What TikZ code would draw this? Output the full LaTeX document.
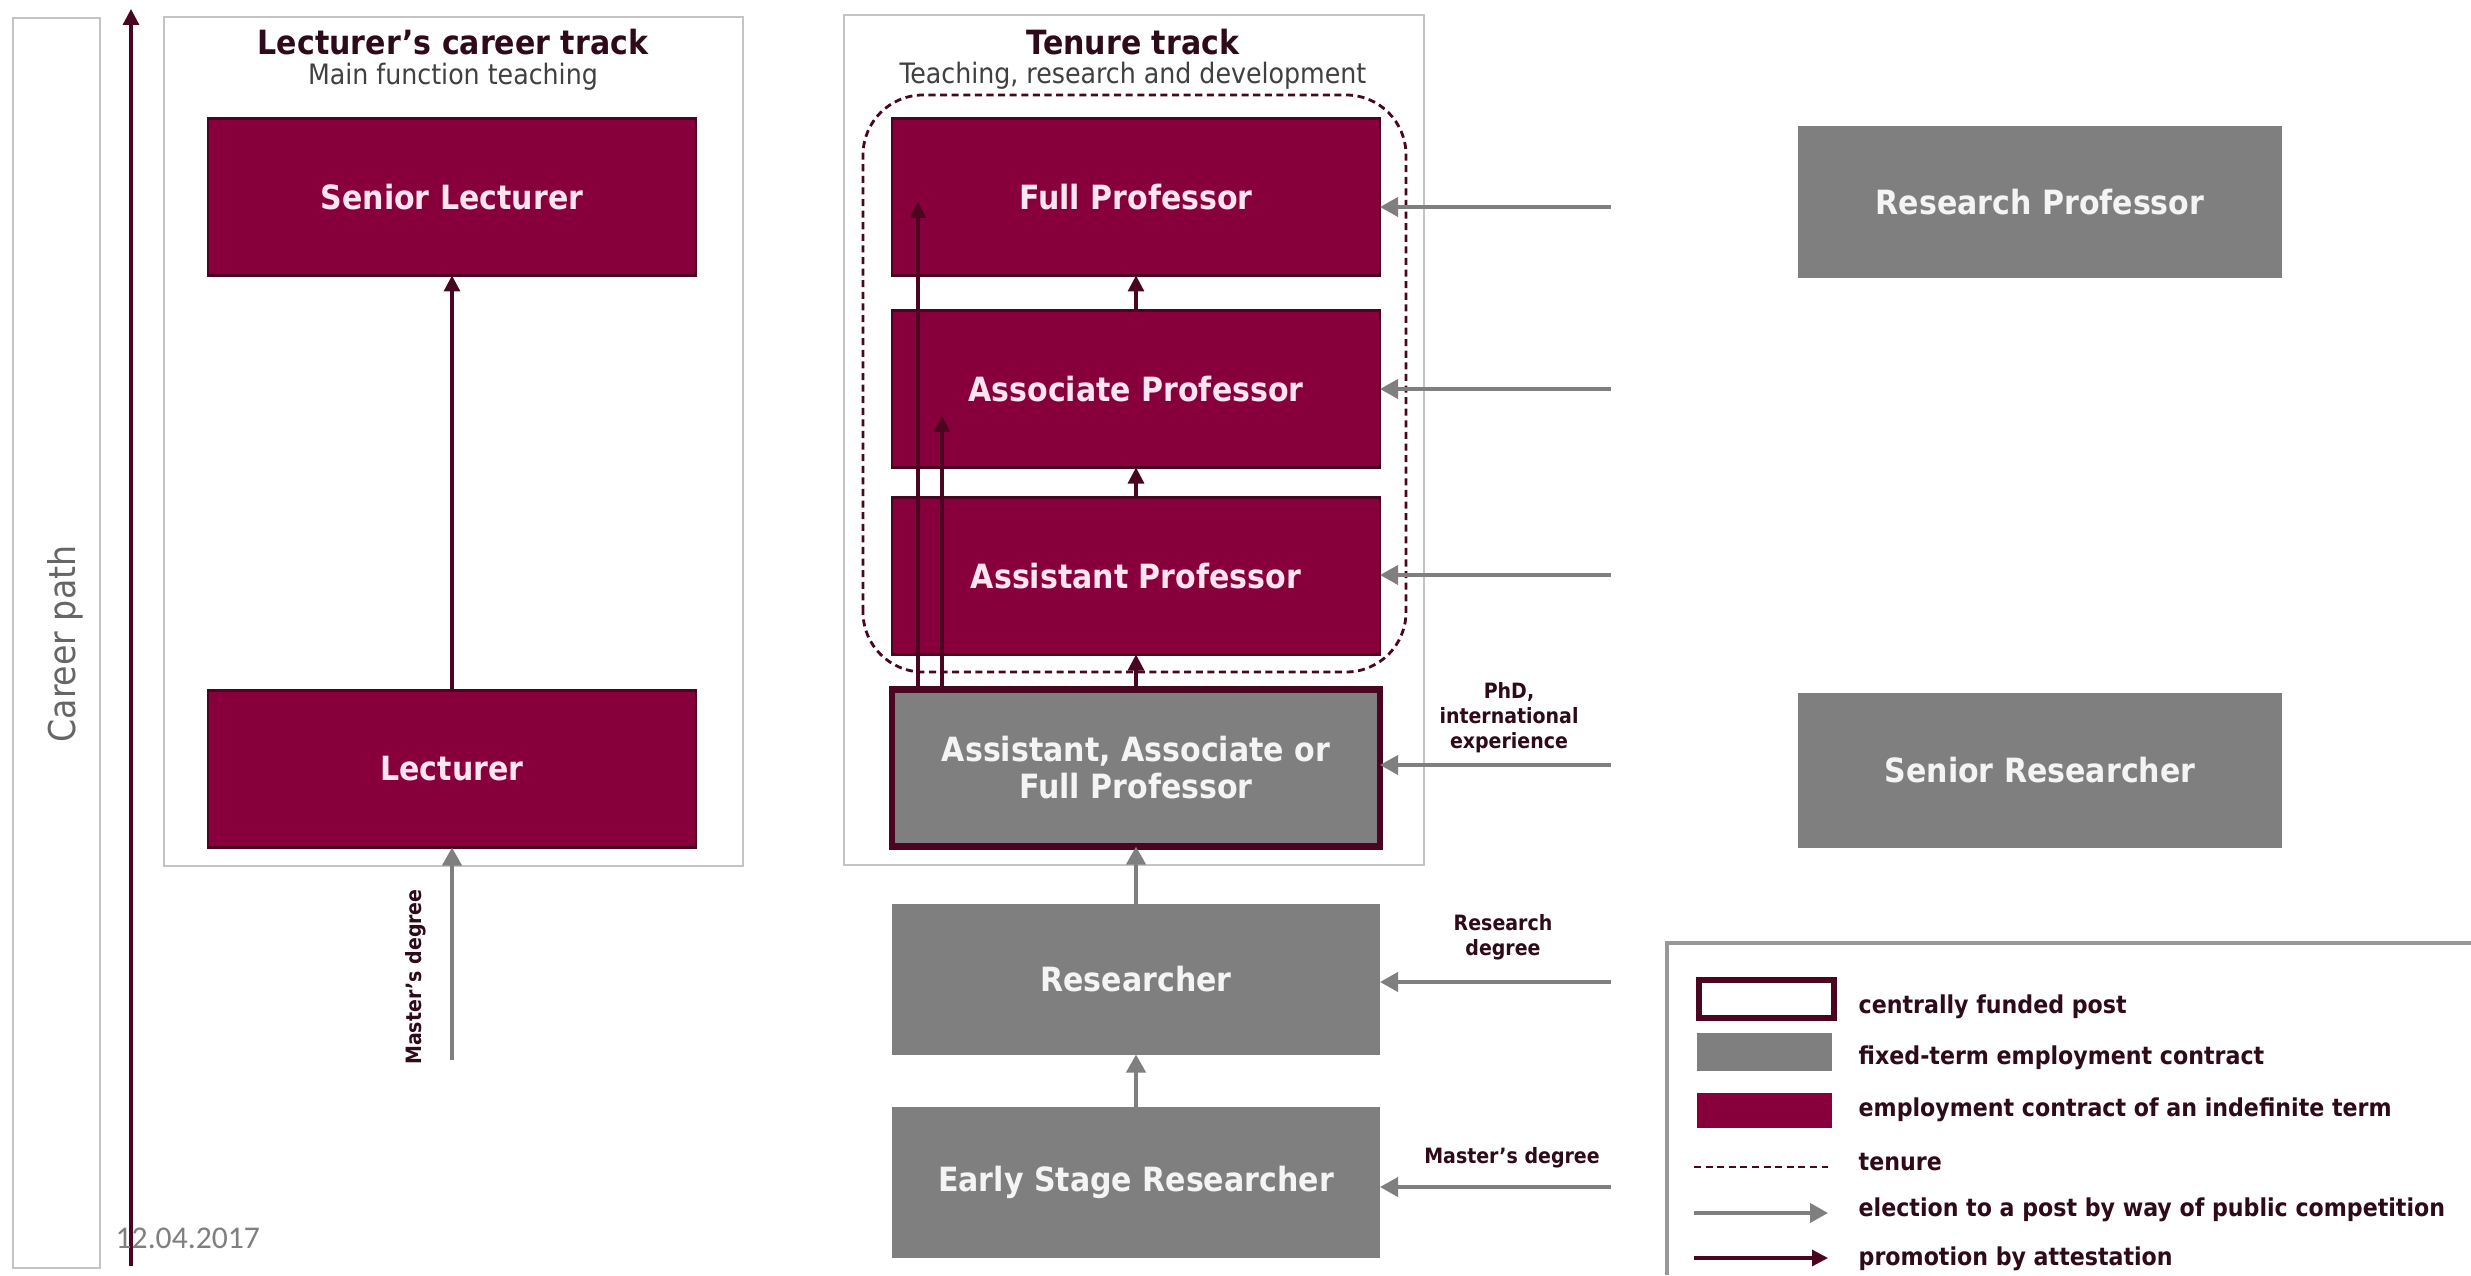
\documentclass[tikz,border=0pt]{standalone}
\usepackage{fontspec}
\setmainfont{DejaVu Sans Condensed}
\newfontfamily\datefont{Carlito}
\usepackage{xcolor}
\usepackage{tikz}
\usetikzlibrary{arrows.meta}
\definecolor{CTMaroon}{HTML}{88003B}
\definecolor{CTEdge}{HTML}{4A0620}
\definecolor{CTGray}{HTML}{7F7F7F}
\definecolor{CTFrame}{HTML}{C4C4C4}
\definecolor{CTInk}{HTML}{2E0A1A}
\definecolor{CTPale}{HTML}{FCE4F0}
\definecolor{CTLight}{HTML}{F4F4F4}
\tikzset{
  post/.style={minimum width=4.88cm,minimum height=1.57cm,inner sep=0pt,outer sep=0pt,
    font=\fontsize{9.5}{10.5}\selectfont\bfseries,align=center},
  indef/.style={post,fill=CTMaroon,draw=CTEdge,line width=.6pt,text=CTPale},
  fixed/.style={post,fill=CTGray,text=CTLight},
  funded/.style={post,fill=CTGray,draw=CTEdge,line width=1.8pt,text=CTLight},
  frame/.style={draw=CTFrame,line width=.7pt},
  promo/.style={draw=CTEdge,line width=.9pt,-{Triangle[length=1.6mm,width=1.6mm]}},
  elect/.style={draw=CTGray,line width=1.1pt,-{Triangle[length=1.8mm,width=1.9mm]}},
  cond/.style={font=\fontsize{6}{7.1}\selectfont\bfseries,text=CTInk,align=center},
  keytext/.style={anchor=west,inner sep=0pt,font=\fontsize{7}{8}\selectfont\bfseries,text=CTInk},
  title/.style={font=\fontsize{9.5}{11}\selectfont\bfseries,text=CTInk},
  subtitle/.style={font=\fontsize{8}{10}\selectfont,text=black!75}
}

\begin{document}
\begin{tikzpicture}[x=1cm,y=1cm]
\path[use as bounding box] (0,0) rectangle (24.71,12.75);
\fill[white] (0,0) rectangle (24.71,12.75);
% career path axis
\draw[frame] (0.13,0.07) rectangle (1.00,12.57);
\node[rotate=90,font=\fontsize{10.5}{12}\selectfont,text=black!60] (pathlabel) at (0.65,6.31) {Career path};
\coordinate (pathfoot) at (1.31,0.09);
\coordinate (pathhead) at (1.31,12.66);
\draw[promo] (pathfoot) -- (pathhead);
% lecturer track
\draw[frame] (1.64,4.09) rectangle (7.43,12.58);
\node[title] (lectitle) at (4.53,12.33) {Lecturer’s career track};
\node[subtitle] (lecsub) at (4.53,11.98) {Main function teaching};
\node[indef] (senlec) at (4.52,10.78) {Senior Lecturer};
\node[indef] (lec) at (4.52,5.06) {Lecturer};
\draw[promo] (lec) -- (senlec);
\coordinate (lecfoot) at (4.52,2.15);
\draw[elect] (lecfoot) -- (lec);
\node[cond,rotate=90] (lecmd) at (4.16,2.98) {Master’s degree};
% tenure track
\draw[frame] (8.44,4.10) rectangle (14.24,12.60);
\node[title] (tentitle) at (11.33,12.33) {Tenure track};
\node[subtitle] (tensub) at (11.33,11.99) {Teaching, research and development};
\node[indef] (fullprof) at (11.36,10.78) {Full Professor};
\node[indef] (assoc) at (11.36,8.86) {Associate Professor};
\node[indef] (assist) at (11.36,6.99) {Assistant Professor};
\node[funded] (aaf) at (11.36,5.07) {Assistant, Associate or\\Full Professor};
\node[fixed,minimum height=1.51cm] (res) at (11.36,2.96) {Researcher};
\node[fixed,minimum height=1.51cm] (esr) at (11.36,0.93) {Early Stage Researcher};
\draw[CTEdge,dash pattern=on 2pt off 1.3pt,line width=.8pt,rounded corners=0.6cm] (8.63,6.03) rectangle (14.06,11.80);
\draw[promo] (assoc) -- (fullprof);
\draw[promo] (assist) -- (assoc);
\draw[promo] (aaf) -- (assist);
\draw[promo] ([xshift=0.26cm]aaf.north west) -- ([xshift=0.26cm,yshift=-0.05cm]fullprof.west);
\draw[promo] ([xshift=0.50cm]aaf.north west) -- ([xshift=0.50cm,yshift=-0.27cm]assoc.west);
\draw[elect] (res) -- (aaf);
\draw[elect] (esr) -- (res);
% entries from outside
\coordinate (inFP) at (16.11,10.68);
\coordinate (inAP) at (16.11,8.86);
\coordinate (inSP) at (16.11,7.00);
\coordinate (inAAF) at (16.11,5.10);
\coordinate (inRes) at (16.11,2.93);
\coordinate (inESR) at (16.11,0.88);
\draw[elect] (inFP) -- (fullprof.east |- inFP);
\draw[elect] (inAP) -- (assoc.east |- inAP);
\draw[elect] (inSP) -- (assist.east |- inSP);
\draw[elect] (inAAF) -- (aaf.east |- inAAF);
\draw[elect] (inRes) -- (res.east |- inRes);
\draw[elect] (inESR) -- (esr.east |- inESR);
\node[cond] (phdlabel) at (15.09,5.57) {PhD,\\international\\experience};
\node[cond] (rdlabel) at (15.03,3.38) {Research\\degree};
\node[cond] (mdlabel) at (15.12,1.17) {Master’s degree};
% research posts
\node[fixed,minimum width=4.84cm,minimum height=1.52cm] (resprof) at (20.40,10.73) {Research Professor};
\node[fixed,minimum width=4.84cm,minimum height=1.55cm] (senres) at (20.40,5.05) {Senior Researcher};
% key
\draw[CTGray!80,line width=.9pt] (24.71,3.32) -- (16.67,3.32) -- (16.67,0);
\draw[CTEdge,line width=1.6pt,fill=white] (16.99,2.57) rectangle (18.34,2.95);
\fill[CTGray] (16.97,2.04) rectangle (18.32,2.42);
\fill[CTMaroon] (16.97,1.47) rectangle (18.32,1.82);
\draw[CTEdge,dash pattern=on 2pt off 1.3pt,line width=.8pt] (16.94,1.08) -- (18.28,1.08);
\draw[elect] (16.94,0.62) -- (18.28,0.62);
\draw[promo] (16.94,0.17) -- (18.28,0.17);
\node[keytext] (kfunded) at (18.58,2.68) {centrally funded post};
\node[keytext] (kfixed) at (18.58,2.17) {fixed-term employment contract};
\node[keytext] (kindef) at (18.58,1.65) {employment contract of an indefinite term};
\node[keytext] (ktenure) at (18.58,1.13) {tenure};
\node[keytext] (kelect) at (18.58,0.65) {election to a post by way of public competition};
\node[keytext] (kpromo) at (18.58,0.16) {promotion by attestation};
\node[anchor=base west,inner sep=0pt,font=\datefont\fontsize{9}{11}\selectfont,text=CTGray] (date) at (1.15,0.27) {12.04.2017};
\end{tikzpicture}
\end{document}
